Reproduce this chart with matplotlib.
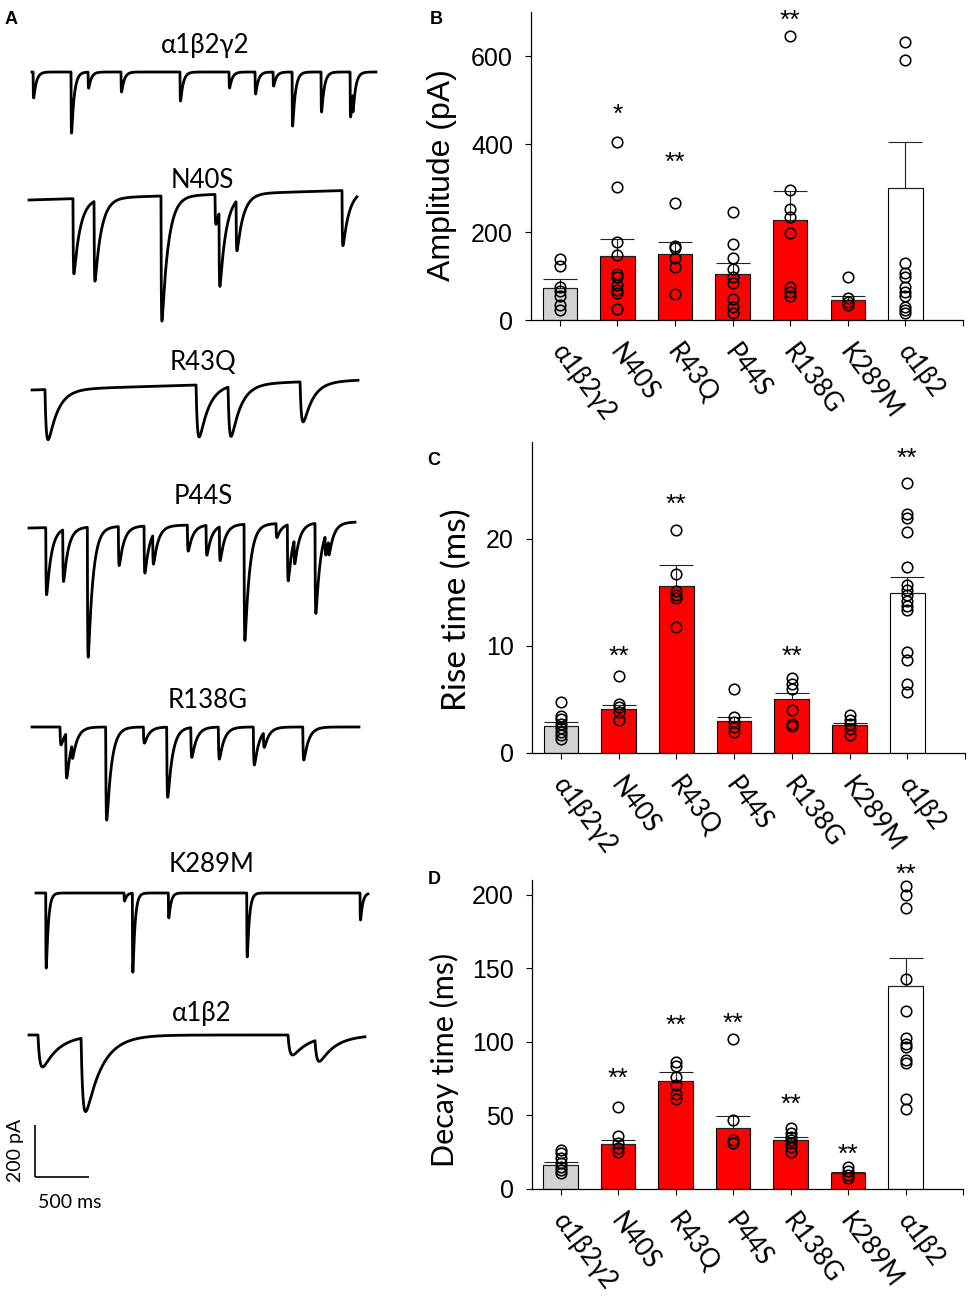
import numpy as np
import matplotlib
matplotlib.use("Agg")
import matplotlib.pyplot as plt
from matplotlib.transforms import offset_copy

# ---------------- data ----------------
groups = ["α1β2γ2", "N40S", "R43Q", "P44S", "R138G", "K289M", "α1β2"]

amp_mean = [73, 145, 149, 105, 227, 45, 299]
amp_sem = [20, 39, 29, 24, 67, 10, 106]
amp_points = [
    [138, 122, 75, 65, 55, 35, 22],
    [405, 302, 177, 148, 105, 98, 80, 68, 62, 24],
    [267, 169, 163, 140, 121, 58],
    [245, 173, 142, 117, 98, 85, 47, 29, 15],
    [645, 295, 252, 233, 197, 74, 64, 55],
    [98, 49, 42, 34],
    [632, 592, 130, 107, 98, 76, 64, 55, 30, 23, 17],
]
amp_stars = ["", "*", "**", "", "**", "", ""]
amp_star_y = [0, 484, 375, 0, 697, 0, 0]

rise_mean = [2.5, 4.1, 15.6, 2.95, 5.0, 2.6, 14.9]
rise_sem = [0.35, 0.4, 1.95, 0.45, 0.55, 0.2, 1.5]
rise_points = [
    [4.75, 3.45, 3.2, 2.7, 2.3, 1.95, 1.65, 1.35],
    [7.2, 4.6, 4.3, 3.8, 3.05],
    [20.8, 16.65, 15.15, 14.75, 14.5, 11.75],
    [6.0, 3.35, 2.9, 2.4, 1.95],
    [6.95, 6.45, 6.0, 4.0, 2.75, 2.5],
    [3.5, 3.1, 2.75, 2.25, 1.65],
    [25.2, 22.25, 21.9, 20.65, 17.3, 15.65, 15.2, 14.7, 14.2, 13.75, 13.3,
     9.4, 8.65, 6.45, 5.7],
]
rise_stars = ["", "**", "**", "", "**", "", "**"]
rise_star_y = [0, 9.66, 23.86, 0, 9.66, 0, 28.1]

decay_mean = [16.5, 30.3, 73.5, 41.6, 33.2, 11.1, 137.9]
decay_sem = [1.6, 2.9, 6.1, 7.9, 1.9, 0.6, 19.3]
decay_points = [
    [26.5, 24.2, 20.8, 17.9, 15.1, 13.1, 10.6],
    [55.4, 36, 31, 27.6, 25.3],
    [86.4, 83.4, 76.2, 70.6, 64.5, 61.5],
    [101.8, 46.8, 33.2, 31.4],
    [41.2, 38.2, 35.5, 33.2, 31, 28.3, 25.3],
    [14.7, 12.2, 9.5, 7.2],
    [205.8, 200, 191.1, 142.5, 121, 102.6, 98.8, 96.5, 88, 85.7, 61.5, 54.7],
]
decay_stars = ["", "**", "**", "**", "**", "**", "**"]
decay_star_y = [0, 80, 116, 117.6, 62.2, 28, 218.7]

# Panel A: example traces (event onset times in ms, amplitudes in pA)
trace_names = ["α1β2γ2", "N40S", "R43Q", "P44S", "R138G", "K289M", "α1β2"]
trace_duration = [3185, 3037, 3019, 3019, 3028, 3074, 3111]
trace_drift = [0, 38, 38, 23, 0, 0, 0]
trace_rise = [2, 3, 15, 3, 4, 2, 20]
trace_decay = [25, 60, 90, 45, 45, 20, 150]
ev_wt_t = [10, 361, 519, 824, 1370, 1824, 2065, 2232, 2408, 2676, 2945, 2968]
ev_wt_a = [100, 235, 62, 77, 112, 62, 85, 54, 208, 154, 173, 77]
ev_n40s_t = [407, 602, 1222, 1722, 1759, 1917, 2898]
ev_n40s_a = [289, 308, 481, 115, 289, 193, 212]
ev_r43q_t = [120, 1519, 1815, 2482]
ev_r43q_a = [193, 200, 193, 154]
ev_p44s_t = [155, 312, 540, 827, 1065, 1145, 1466, 1639, 1762, 1991, 2287,
             2392, 2454, 2648, 2741, 2772]
ev_p44s_a = [258, 200, 500, 150, 181, 115, 100, 115, 131, 447, 54, 216, 96,
             347, 77, 58]
ev_r138g_t = [259, 312, 368, 682, 1031, 1247, 1470, 1725, 2049, 2142, 2507]
ev_r138g_a = [69, 173, 58, 358, 62, 270, 115, 123, 146, 58, 127]
ev_k289m_t = [90, 815, 892, 1225, 1951, 3000]
ev_k289m_a = [289, 31, 304, 96, 246, 104]
ev_a1b2_t = [83, 482, 2398, 2648]
ev_a1b2_a = [123, 285, 77, 85]
trace_events = [(ev_wt_t, ev_wt_a), (ev_n40s_t, ev_n40s_a), (ev_r43q_t, ev_r43q_a),
                (ev_p44s_t, ev_p44s_a), (ev_r138g_t, ev_r138g_a),
                (ev_k289m_t, ev_k289m_a), (ev_a1b2_t, ev_a1b2_a)]
scale_pa = 200
scale_ms = 500

# ---------------- layout / style ----------------
W, H = 973, 1300
MS_PER_PX = 500 / 54
PA_PER_PX = 200 / 52
AR = ["Liberation Sans", "DejaVu Sans"]
CAL = ["Lato", "DejaVu Sans"]
bar_colors = ["#d2d2d2"] + ["#ff0000"] * 5 + ["#ffffff"]

fig = plt.figure(figsize=(W / 100, H / 100), dpi=100)


def fx(x):
    return x / W


def fy(y):
    return 1 - y / H


# ---------------- panel A ----------------
axA = fig.add_axes([0, 0, 1, 1])
axA.set_xlim(0, W * MS_PER_PX)
axA.set_ylim(-H * PA_PER_PX, 0)
axA.axis("off")
axA.patch.set_alpha(0)

trace_x0 = [32, 29, 32, 29, 32, 36, 29]
trace_base = [72, 200, 390, 528, 727, 893, 1035]
label_pos = [(205, 45), (202, 180), (203, 362), (203, 497), (208, 700),
             (212, 865), (202, 1013)]


def event_shape(s, tr, td):
    g = np.linspace(0, 10 * td, 20001)
    peak = np.max((1 - np.exp(-g / tr)) * np.exp(-g / td))
    sc = np.clip(s, 0, None)
    out = np.where(s > 0, (1 - np.exp(-sc / tr)) * np.exp(-sc / td), 0.0)
    return out / peak


for k in range(len(trace_names)):
    t = np.arange(0, trace_duration[k], 0.5)
    y = trace_drift[k] * t / trace_duration[k]
    for t0, a in zip(*trace_events[k]):
        y = y - a * event_shape(t - t0, trace_rise[k], trace_decay[k])
    axA.plot(trace_x0[k] * MS_PER_PX + t, -trace_base[k] * PA_PER_PX + y,
             color="black", lw=2.0, solid_joinstyle="round")
    lx, ly = label_pos[k]
    fig.text(fx(lx), fy(ly), trace_names[k], ha="center", va="center",
             fontsize=18.5, family=CAL)

# scale bar
sb_x, sb_y = 35, 1177
axA.plot([sb_x * MS_PER_PX] * 2,
         [-sb_y * PA_PER_PX, -sb_y * PA_PER_PX + scale_pa],
         color="black", lw=1.2, solid_capstyle="butt")
axA.plot([sb_x * MS_PER_PX, sb_x * MS_PER_PX + scale_ms],
         [-sb_y * PA_PER_PX] * 2, color="black", lw=1.2, solid_capstyle="butt")
fig.text(fx(15), fy(1150), f"{scale_pa} pA", rotation=90, ha="center",
         va="center", fontsize=14, family=CAL)
fig.text(fx(70), fy(1202), f"{scale_ms} ms", ha="center", va="center",
         fontsize=14, family=CAL)

fig.text(fx(11), fy(20), "A", fontweight="bold", fontsize=13, family=AR,
         ha="center", va="center")


# ---------------- bar panels ----------------
def bar_panel(px_box, means, sems, pts, stars, star_y, ylim, yticks):
    l, r, t, b = px_box
    ax = fig.add_axes([fx(l), fy(b), (r - l) / W, (b - t) / H])
    x = np.arange(len(groups))
    ax.bar(x, means, width=0.6, color=bar_colors, edgecolor="black",
           linewidth=0.8, zorder=2)
    ax.errorbar(x, means, yerr=[np.zeros(len(x)), sems], fmt="none",
                ecolor="#222222", elinewidth=0.8, capsize=12.5, capthick=0.8,
                zorder=3)
    for i, p in enumerate(pts):
        ax.plot([i] * len(p), p, "o", mfc="none", mec="black", ms=7.6,
                mew=1.15, zorder=4, clip_on=False)
    fs = 19
    for i, s in enumerate(stars):
        if s:
            ax.annotate(s, (i, star_y[i]), xytext=(0, -0.55 * fs),
                        textcoords="offset points", ha="center",
                        va="baseline", fontsize=fs, family=AR,
                        annotation_clip=False)
    ax.set_xlim(-0.5, 7.0)
    ax.set_ylim(*ylim)
    ax.set_yticks(yticks)
    ax.set_xticks(range(8))
    ax.set_xticklabels([])
    for sp in ("top", "right"):
        ax.spines[sp].set_visible(False)
    for sp in ("left", "bottom"):
        ax.spines[sp].set_linewidth(0.9)
    ax.tick_params(direction="out", length=4, width=0.8, pad=9)
    for lab in ax.get_yticklabels():
        lab.set_fontsize(18)
        lab.set_family(AR)
    tr = offset_copy(ax.get_xaxis_transform(), fig=fig, x=7, y=-20,
                     units="dots")
    for i, g in enumerate(groups):
        ax.text(i, 0, g, transform=tr, rotation=-53, rotation_mode="anchor",
                ha="left", va="top", fontsize=18.5, family=CAL)
    return ax


bar_panel((531, 963, 12, 320), amp_mean, amp_sem, amp_points, amp_stars,
          amp_star_y, (0, 700), [0, 200, 400, 600])
bar_panel((532, 965, 442, 753), rise_mean, rise_sem, rise_points, rise_stars,
          rise_star_y, (0, 29), [0, 10, 20])
bar_panel((532, 963, 880, 1189), decay_mean, decay_sem, decay_points,
          decay_stars, decay_star_y, (0, 210), [0, 50, 100, 150, 200])

fig.text(fx(442), fy(175), "Amplitude (pA)", rotation=90, ha="center",
         va="center", fontsize=23, family=AR)
fig.text(fx(457), fy(610), "Rise time (ms)", rotation=90, ha="center",
         va="center", fontsize=24, family=CAL)
fig.text(fx(444), fy(1060), "Decay time (ms)", rotation=90, ha="center",
         va="center", fontsize=22, family=CAL)

for lab, (px_, py_) in zip("BCD", [(436, 20), (434, 460), (434, 880)]):
    fig.text(fx(px_), fy(py_), lab, fontweight="bold", fontsize=13,
             family=AR, ha="center", va="center")

fig.savefig("out.png", dpi=100)
